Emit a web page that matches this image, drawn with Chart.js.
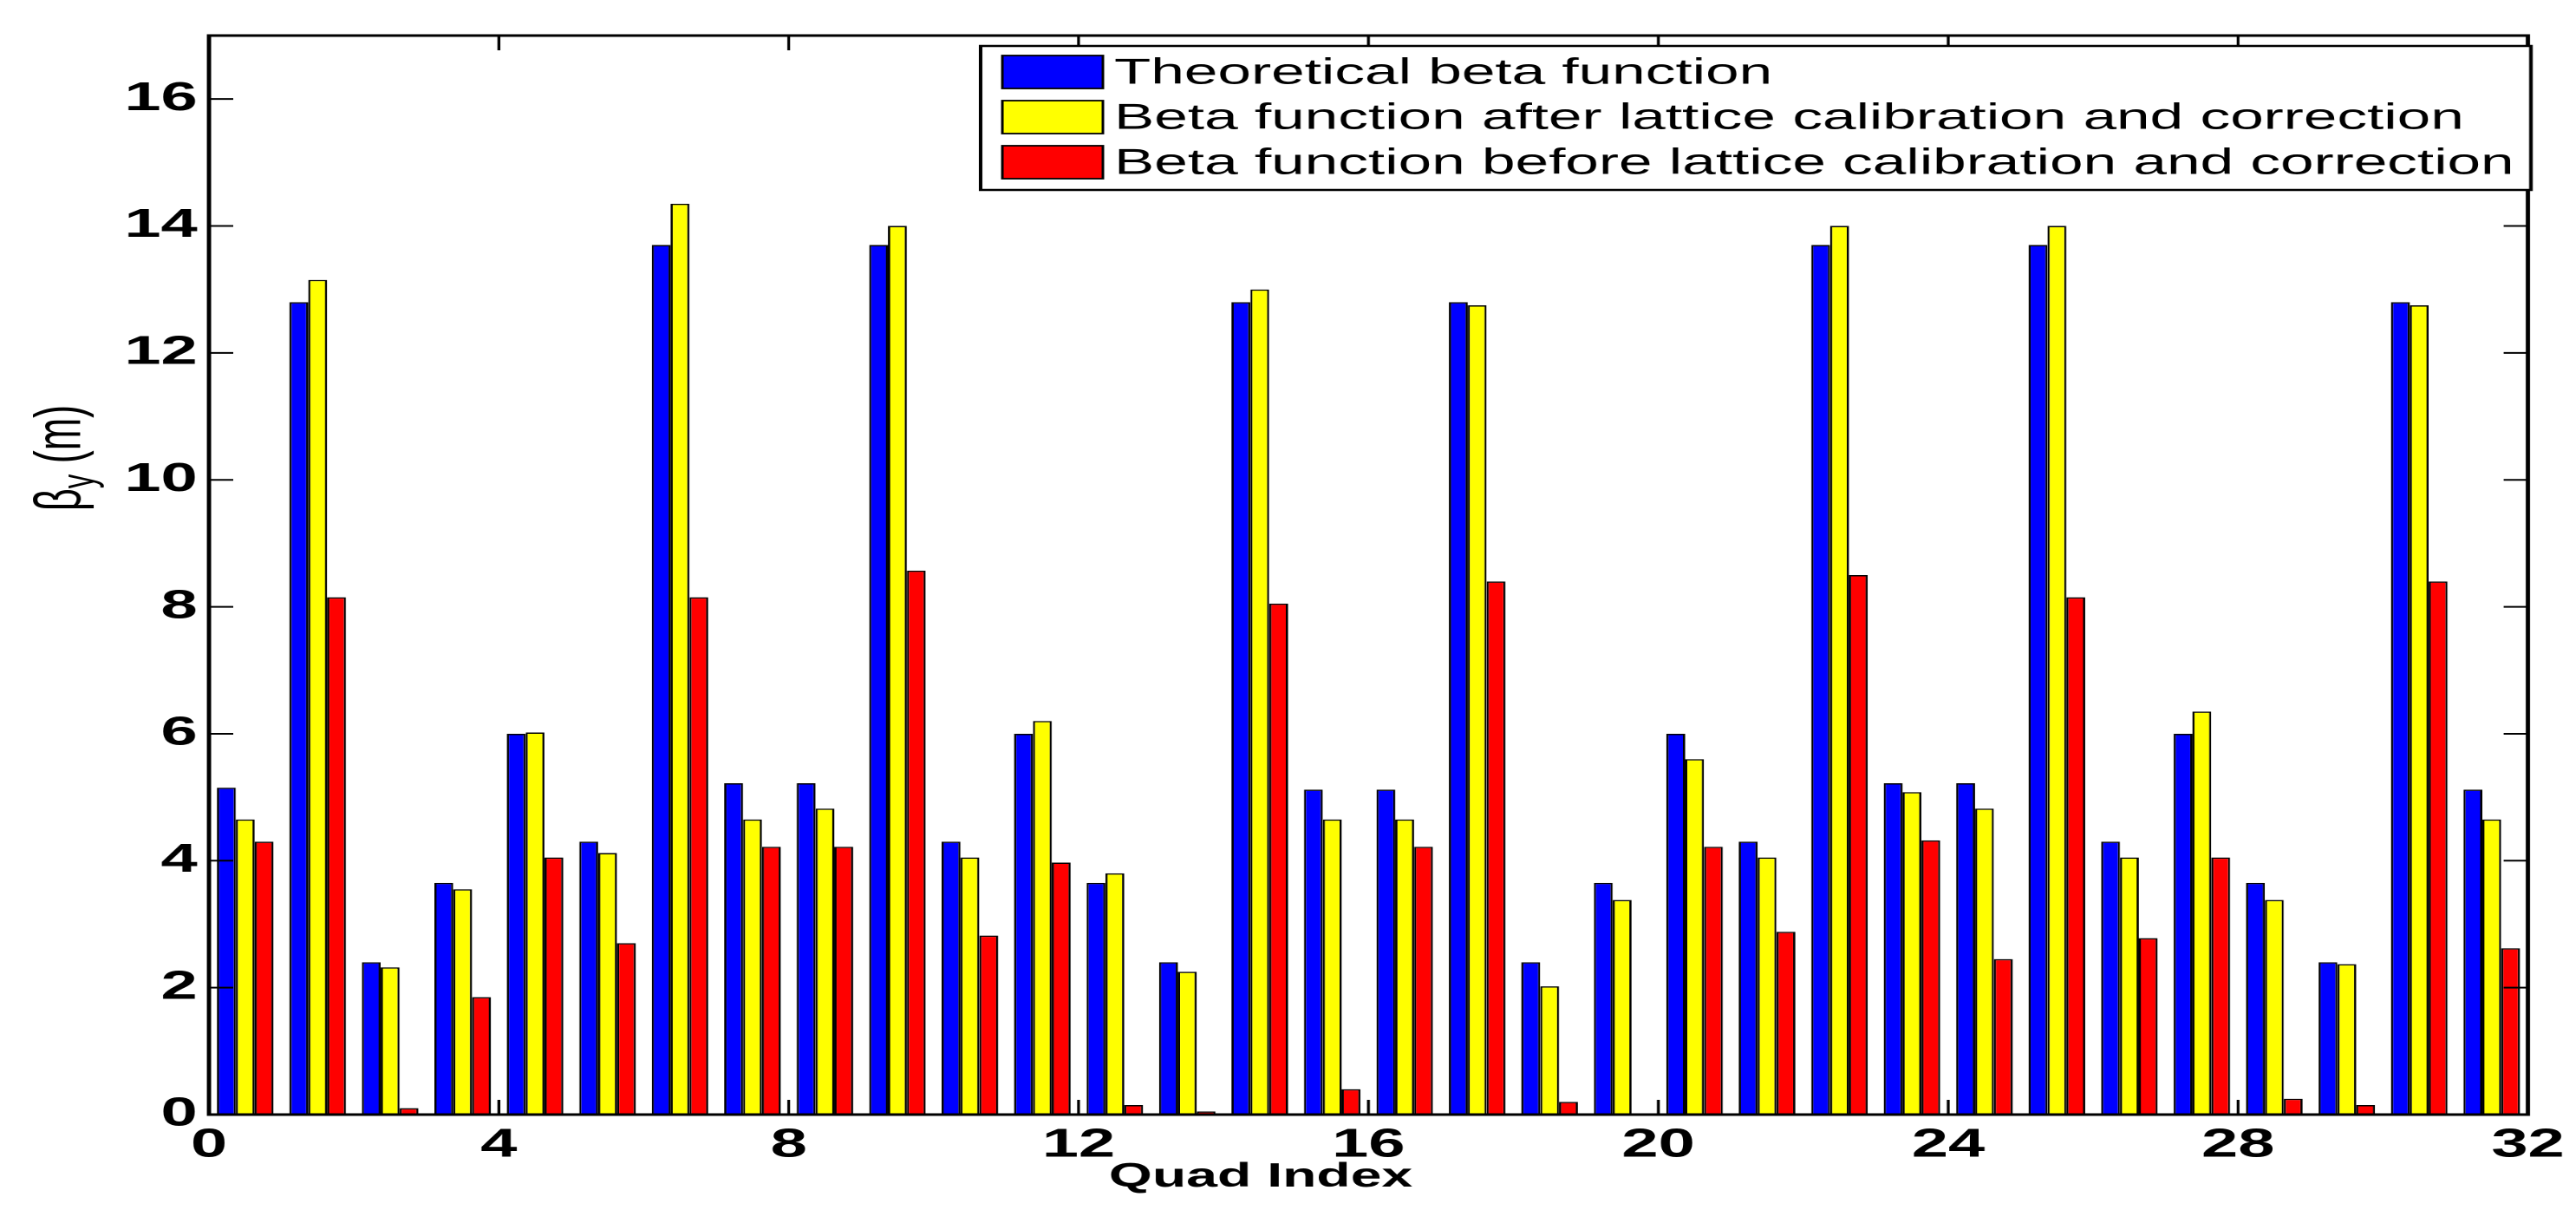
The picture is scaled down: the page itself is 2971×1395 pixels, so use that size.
<!DOCTYPE html>
<html><head><meta charset="utf-8">
<script src="https://cdn.jsdelivr.net/npm/chart.js@4/dist/chart.umd.min.js"></script>
<style>html,body{margin:0;padding:0;background:#fff;overflow:hidden}</style>
</head><body>
<canvas id="c" width="1800" height="1395" style="width:2971px;height:1395px;display:block"></canvas>
<script>
const quadLabels = ['1','2','3','4','5','6','7','8','9','10','11','12','13','14','15','16','17','18','19','20','21','22','23','24','25','26','27','28','29','30','31','32'];
const theoretical = [5.15,12.8,2.4,3.65,6.0,4.3,13.7,5.22,5.22,13.7,4.3,6.0,3.65,2.4,12.8,5.12,5.12,12.8,2.4,3.65,6.0,4.3,13.7,5.22,5.22,13.7,4.3,6.0,3.65,2.4,12.8,5.12];
const afterCorrection = [4.65,13.15,2.32,3.55,6.02,4.12,14.35,4.65,4.82,14.0,4.05,6.2,3.8,2.25,13.0,4.65,4.65,12.75,2.02,3.38,5.6,4.05,14.0,5.08,4.82,14.0,4.05,6.35,3.38,2.37,12.75,4.65];
const beforeCorrection = [4.3,8.15,0.1,1.85,4.05,2.7,8.15,4.22,4.22,8.57,2.82,3.97,0.15,0.05,8.05,0.4,4.22,8.4,0.2,0,4.22,2.88,8.5,4.32,2.45,8.15,2.78,4.05,0.25,0.15,8.4,2.62];
const seriesLabels = ['Theoretical beta function','Beta function after lattice calibration and correction','Beta function before lattice calibration and correction'];
const seriesColors = ['#0000ff','#ffff00','#ff0000'];
const xTickValues = [0,4,8,12,16,20,24,28,32];
const yTickValues = [0,2,4,6,8,10,12,14,16];
const xTitle = 'Quad Index';
const yTitleMain = 'β', yTitleSub = 'y', yTitleUnit = ' (m)';

const FONT = "'Liberation Sans', Arial, Helvetica, sans-serif";
const SX = 2971 / 1800; // horizontal stretch of the reference figure

const decor = {
  id: 'decor',
  afterDatasetsDraw(chart) {
    const ctx = chart.ctx, a = chart.chartArea;
    const xs = chart.scales.x2, ys = chart.scales.y;
    ctx.save();
    ctx.strokeStyle = '#000';
    ctx.lineWidth = 2;
    ctx.beginPath();
    xTickValues.forEach(v => {
      const px = xs.getPixelForValue(v);
      ctx.moveTo(px, a.bottom); ctx.lineTo(px, a.bottom - 17);
      ctx.moveTo(px, a.top); ctx.lineTo(px, a.top + 17);
    });
    yTickValues.forEach(v => {
      const py = ys.getPixelForValue(v);
      ctx.moveTo(a.left, py); ctx.lineTo(a.left + 17, py);
      ctx.moveTo(a.right, py); ctx.lineTo(a.right - 17, py);
    });
    ctx.stroke();
    ctx.lineWidth = 3;
    ctx.strokeRect(a.left, a.top, a.right - a.left, a.bottom - a.top);

    // legend
    const lx = 1131 / SX, ly = 53, lw = (2919 - 1131) / SX, lh = 219 - 53;
    ctx.fillStyle = '#fff';
    ctx.fillRect(lx, ly, lw, lh);
    ctx.lineWidth = 2.5;
    ctx.strokeRect(lx, ly, lw, lh);
    ctx.font = '42px ' + FONT;
    ctx.textBaseline = 'middle';
    ctx.textAlign = 'left';
    chart.data.datasets.forEach((ds, i) => {
      const cy = 83 + i * 52;
      ctx.fillStyle = ds.backgroundColor;
      ctx.fillRect(1156 / SX, cy - 19, 116 / SX, 38);
      ctx.lineWidth = 1.8;
      ctx.strokeStyle = '#000';
      ctx.strokeRect(1156 / SX, cy - 19, 116 / SX, 38);
      ctx.fillStyle = '#000';
      ctx.fillText(ds.label, 1285 / SX, cy + 2);
    });

    // x title
    ctx.font = 'bold 39px ' + FONT;
    ctx.textAlign = 'center';
    ctx.fillText(xTitle, 1454 / SX, 1357);

    // y title
    ctx.translate(72 / SX, 528);
    ctx.rotate(-Math.PI / 2);
    ctx.textAlign = 'left';
    const fMain = '45px ' + FONT, fSub = '33px ' + FONT;
    ctx.font = fMain; const w1 = ctx.measureText(yTitleMain).width;
    ctx.font = fSub; const w2 = ctx.measureText(yTitleSub).width;
    ctx.font = fMain; const w3 = ctx.measureText(yTitleUnit).width;
    let x0 = -(w1 + w2 + w3) / 2;
    ctx.font = fMain; ctx.fillText(yTitleMain, x0, 0);
    ctx.font = fSub; ctx.fillText(yTitleSub, x0 + w1, 13);
    ctx.font = fMain; ctx.fillText(yTitleUnit, x0 + w1 + w2, 0);
    ctx.restore();
  }
};

new Chart(document.getElementById('c'), {
  type: 'bar',
  data: {
    labels: quadLabels,
    datasets: [
      {label: seriesLabels[0], data: theoretical, backgroundColor: seriesColors[0]},
      {label: seriesLabels[1], data: afterCorrection, backgroundColor: seriesColors[1]},
      {label: seriesLabels[2], data: beforeCorrection, backgroundColor: seriesColors[2]}
    ]
  },
  options: {
    responsive: false,
    animation: false,
    devicePixelRatio: 2,
    layout: {padding: {top: 41, right: 1800 - 2939 / SX, left: 0, bottom: 0}},
    datasets: {bar: {categoryPercentage: 0.78, barPercentage: 1.0, borderColor: '#000', borderWidth: 1.5, borderSkipped: false}},
    plugins: {legend: {display: false}, tooltip: {enabled: false}},
    scales: {
      x: {type: 'category', display: false, offset: true},
      x2: {
        type: 'linear', position: 'bottom', min: 0, max: 32, offset: false,
        grid: {display: false, drawTicks: false}, border: {display: false},
        afterBuildTicks: s => { s.ticks = xTickValues.map(v => ({value: v})); },
        afterFit: s => { s.height = 110; },
        ticks: {padding: 8, color: '#000', font: {family: FONT, size: 46, weight: 'bold'}, maxRotation: 0, autoSkip: false}
      },
      y: {
        min: 0, max: 17,
        grid: {display: false, drawTicks: false}, border: {display: false},
        afterBuildTicks: s => { s.ticks = yTickValues.map(v => ({value: v})); },
        afterFit: s => { s.width = 241 / SX; },
        ticks: {padding: 8, color: '#000', font: {family: FONT, size: 46, weight: 'bold'}}
      }
    }
  },
  plugins: [decor]
});
</script>
</body></html>
